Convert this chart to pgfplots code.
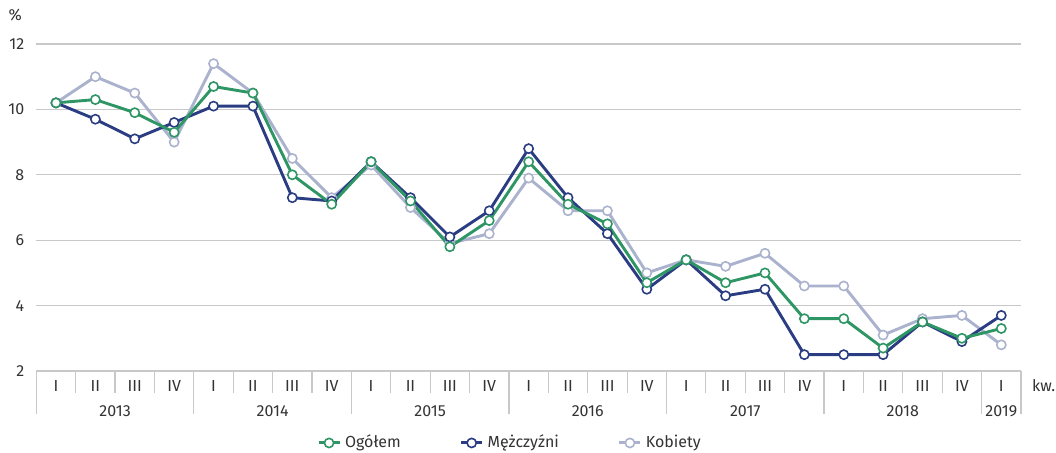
\documentclass[border=0pt]{standalone}
\usepackage{fontspec}
\setmainfont{Fira Sans}
\usepackage{pgfplots}
\usepackage{pgfplotstable}
\pgfplotsset{compat=1.18}
\definecolor{cGreen}{HTML}{2E9664}
\definecolor{cBlue}{HTML}{2A3C82}
\definecolor{cLight}{HTML}{AAB2CD}
\definecolor{cText}{HTML}{333333}
\definecolor{cGrid}{HTML}{C8C8C8}
\pgfplotstableread{
x ogolem mezczyzni kobiety
0 10.2 10.2 10.2
1 10.3 9.7 11.0
2 9.9 9.1 10.5
3 9.3 9.6 9.0
4 10.7 10.1 11.4
5 10.5 10.1 10.5
6 8.0 7.3 8.5
7 7.1 7.2 7.3
8 8.4 8.4 8.3
9 7.2 7.3 7.0
10 5.8 6.1 5.9
11 6.6 6.9 6.2
12 8.4 8.8 7.9
13 7.1 7.3 6.9
14 6.5 6.2 6.9
15 4.7 4.5 5.0
16 5.4 5.4 5.4
17 4.7 4.3 5.2
18 5.0 4.5 5.6
19 3.6 2.5 4.6
20 3.6 2.5 4.6
21 2.7 2.5 3.1
22 3.5 3.5 3.6
23 3.0 2.9 3.7
24 3.3 3.7 2.8
}\data
\begin{document}
\begin{tikzpicture}
\useasboundingbox (0,0) rectangle (528pt,226pt);
\begin{axis}[
  at={(18.15pt,40.5pt)}, anchor=south west,
  scale only axis, width=492.35pt, height=163.5pt,
  xmin=-0.5, xmax=24.5, ymin=2, ymax=12,
  ytick={2,4,...,12},
  xtick={0,...,24},
  xticklabels={I,II,III,IV,I,II,III,IV,I,II,III,IV,I,II,III,IV,I,II,III,IV,I,II,III,IV,I},
  major tick length=0pt,
  axis line style={draw=none},
  ymajorgrids, grid style={cGrid, line width=0.6pt},
  clip=false,
  /pgf/number format/assume math mode=true,
  tick label style={font=\fontsize{8}{9}\selectfont, text=cText},
  xticklabel style={anchor=center, yshift=-7.5pt},
  yticklabel style={xshift=-2.5pt},
  every axis plot/.append style={line width=1.45pt, mark=*, mark size=2.3pt,
     mark options={fill=white, line width=0.8pt}},
  legend columns=3,
  legend style={draw=none, fill=none, at={(0.482,-0.22)}, anchor=center,
     font=\fontsize{8}{9}\selectfont, text=cText,
     /tikz/every even column/.append style={column sep=27.5pt}},
  legend cell align=left,
  legend image code/.code={\draw[mark repeat=2,mark phase=2,#1] plot coordinates {(0pt,0pt) (5.25pt,0pt) (10.5pt,0pt)};},
]
\addlegendimage{cGreen, line width=1.45pt, mark=*, mark size=2.3pt, mark options={fill=white, line width=0.8pt}}
\addlegendentry{Ogółem}
\addlegendimage{cBlue, line width=1.45pt, mark=*, mark size=2.3pt, mark options={fill=white, line width=0.8pt}}
\addlegendentry{Mężczyźni}
\addlegendimage{cLight, line width=1.45pt, mark=*, mark size=2.3pt, mark options={fill=white, line width=0.8pt}}
\addlegendentry{Kobiety}
\addplot[cLight, forget plot] table[x=x, y=kobiety] {\data};
\addplot[cBlue, forget plot] table[x=x, y=mezczyzni] {\data};
\addplot[cGreen, forget plot] table[x=x, y=ogolem] {\data};
% category box separators
\pgfplotsinvokeforeach{0.5,1.5,2.5,4.5,5.5,6.5,8.5,9.5,10.5,12.5,13.5,14.5,16.5,17.5,18.5,20.5,21.5,22.5}{
  \draw[cGrid, line width=0.6pt] (axis cs:#1,2) -- ([yshift=-11pt]axis cs:#1,2);
}
\pgfplotsinvokeforeach{-0.5,3.5,7.5,11.5,15.5,19.5,23.5,24.5}{
  \draw[cGrid, line width=0.6pt] (axis cs:#1,2) -- ([yshift=-21.5pt]axis cs:#1,2);
}
\node[font=\fontsize{8}{9}\selectfont, text=cText] at ([yshift=-20pt]axis cs:1.5,2) {2013};
\node[font=\fontsize{8}{9}\selectfont, text=cText] at ([yshift=-20pt]axis cs:5.5,2) {2014};
\node[font=\fontsize{8}{9}\selectfont, text=cText] at ([yshift=-20pt]axis cs:9.5,2) {2015};
\node[font=\fontsize{8}{9}\selectfont, text=cText] at ([yshift=-20pt]axis cs:13.5,2) {2016};
\node[font=\fontsize{8}{9}\selectfont, text=cText] at ([yshift=-20pt]axis cs:17.5,2) {2017};
\node[font=\fontsize{8}{9}\selectfont, text=cText] at ([yshift=-20pt]axis cs:21.5,2) {2018};
\node[font=\fontsize{8}{9}\selectfont, text=cText] at ([yshift=-20pt]axis cs:24,2) {2019};
\node[font=\fontsize{8}{9}\selectfont, text=cText, anchor=west] at ([xshift=2pt,yshift=-7.5pt]axis cs:24.5,2) {kw.};
\node[font=\fontsize{8}{9}\selectfont, text=cText] at ([xshift=-10.5pt,yshift=14.5pt]axis cs:-0.5,12) {\%};
\end{axis}
\end{tikzpicture}
\end{document}
